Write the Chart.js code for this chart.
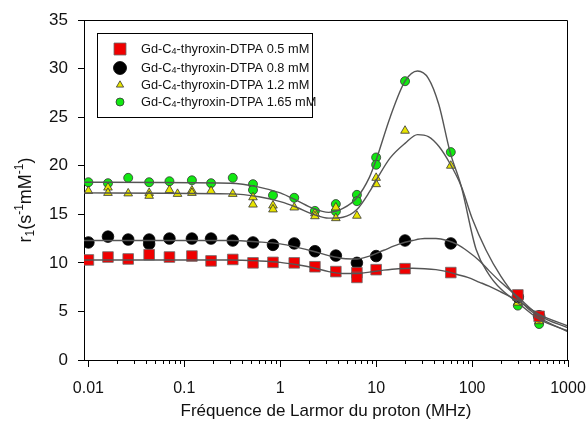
<!DOCTYPE html>
<html>
<head>
<meta charset="utf-8">
<script src="https://cdn.jsdelivr.net/npm/chart.js@4.4.1/dist/chart.umd.min.js"></script>
<style>
  html, body { margin: 0; padding: 0; background: #fff; }
  #wrap { width: 588px; height: 427px; }
</style>
</head>
<body>
<div id="wrap"><canvas id="c"></canvas></div>
<script>
// measured points (frequency in MHz, r1 in s-1 mM-1)
const freq05 = [0.01, 0.016, 0.026, 0.043, 0.07, 0.12, 0.19, 0.32, 0.52, 0.84, 1.4, 2.3, 3.8, 6.3, 6.3, 10, 20, 60, 300, 500];
const r1_05  = [10.3, 10.6, 10.4, 10.85, 10.6, 10.7, 10.2, 10.35, 10.0, 10.05, 10.0, 9.6, 9.1, 9.0, 8.5, 9.3, 9.4, 9.0, 6.7, 4.5];

const freq08 = [0.01, 0.016, 0.026, 0.043, 0.043, 0.07, 0.12, 0.19, 0.32, 0.52, 0.84, 1.4, 2.3, 3.8, 6.3, 10, 20, 60, 300, 500];
const r1_08  = [12.1, 12.7, 12.4, 12.4, 11.95, 12.5, 12.5, 12.5, 12.3, 12.1, 11.85, 12.0, 11.2, 10.75, 10.0, 10.7, 12.3, 12.0, 6.5, 4.5];

const freq12 = [0.01, 0.016, 0.016, 0.026, 0.043, 0.043, 0.07, 0.085, 0.12, 0.12, 0.19, 0.32, 0.52, 0.52, 0.84, 0.84, 1.4, 2.3, 2.3, 3.8, 3.8, 6.3, 10, 10, 20, 60, 300, 500];
const r1_12  = [17.4, 17.75, 17.2, 17.15, 17.2, 16.9, 17.5, 17.1, 17.45, 17.2, 17.4, 17.1, 16.75, 16.0, 15.9, 15.5, 15.7, 15.1, 14.8, 15.7, 14.6, 14.85, 18.75, 18.1, 23.6, 20.0, 5.9, 4.0];

const freq165 = [0.01, 0.016, 0.026, 0.043, 0.07, 0.12, 0.19, 0.32, 0.52, 0.52, 0.84, 1.4, 2.3, 3.8, 3.8, 6.3, 6.3, 10, 10, 20, 60, 300, 500];
const r1_165  = [18.3, 18.2, 18.75, 18.3, 18.4, 18.5, 18.2, 18.75, 18.1, 17.5, 16.95, 16.7, 15.35, 16.05, 15.3, 17.0, 16.35, 20.85, 20.1, 28.7, 21.4, 5.6, 3.7];

// fitted curves
const fitFreq05 = [0.009, 0.1, 0.3, 0.6, 1, 1.5, 2.2, 3.2, 4.5, 6.3, 8.5, 12, 17, 24, 32, 42, 55, 70, 90, 120, 150, 200, 300, 500, 1000];
const fit05     = [10.3, 10.3, 10.3, 10.2, 10.05, 9.8, 9.5, 9.1, 8.9, 8.9, 9.05, 9.25, 9.4, 9.45, 9.4, 9.3, 9.1, 8.8, 8.5, 8.0, 7.6, 7.0, 6.1, 4.7, 3.5];

const fitFreq08 = [0.009, 0.1, 0.3, 0.6, 1, 1.5, 2.2, 3.2, 4.5, 6.3, 8.5, 12, 17, 24, 32, 42, 55, 70, 90, 120, 150, 200, 300, 500, 1000];
const fit08     = [12.3, 12.3, 12.3, 12.15, 11.95, 11.6, 11.2, 10.75, 10.45, 10.4, 10.7, 11.3, 11.9, 12.3, 12.5, 12.5, 12.3, 11.9, 11.2, 10.2, 9.2, 8.0, 6.5, 4.6, 3.3];

const fitFreq12 = [0.009, 0.3, 0.6, 1, 1.5, 2.2, 3.2, 4.5, 6.3, 8.5, 10, 14, 20, 27, 35, 45, 59, 77, 100, 140, 200, 300, 500, 1000];
const fit12     = [17.2, 17.1, 16.8, 16.3, 15.7, 15.0, 14.6, 14.7, 15.5, 17.3, 18.5, 20.8, 22.3, 23.2, 23.0, 22.0, 20.2, 17.9, 14.6, 11.3, 8.6, 6.3, 4.4, 2.9];

const fitFreq165 = [0.009, 0.3, 0.6, 1, 1.5, 2.2, 3.2, 4.5, 6.3, 8.5, 10, 14, 20, 27, 35, 45, 59, 77, 110, 150, 200, 300, 500, 1000];
const fit165     = [18.3, 18.2, 17.8, 17.2, 16.4, 15.6, 15.2, 15.6, 16.7, 18.8, 20.6, 25.0, 28.7, 29.75, 29.0, 26.3, 21.4, 17.9, 11.4, 8.8, 7.3, 5.9, 4.2, 3.0];

const seriesNames = ['0.5 mM', '0.8 mM', '1.2 mM', '1.65 mM'];
const xMajorTicks = [0.01, 0.1, 1, 10, 100, 1000];
const yTicks = [0, 5, 10, 15, 20, 25, 30, 35];

const FONT = "'Liberation Sans', Arial, sans-serif";

function pts(xs, ys) {
  return xs.map((x, i) => ({ x: x, y: ys[i] }));
}

function fitLine(xs, ys) {
  return {
    type: 'line',
    data: pts(xs, ys),
    borderColor: '#555',
    borderWidth: 1.4,
    pointRadius: 0,
    fill: false,
    tension: 0.4,
    cubicInterpolationMode: 'monotone',
    order: 0
  };
}

const markers = [
  { style: 'rect', fill: '#f00000', edge: '#6b6b6b', r: 7.5 },
  { style: 'circle', fill: '#000000', edge: '#000000', r: 5.8 },
  { style: 'triangle', fill: '#e8e400', edge: '#333', r: 5.0 },
  { style: 'circle', fill: '#12e812', edge: '#333', r: 4.5 }
];

function scatterSet(xs, ys, m) {
  return {
    type: 'scatter',
    data: pts(xs, ys),
    pointStyle: m.style,
    pointRadius: m.r,
    pointHoverRadius: m.r,
    backgroundColor: m.fill,
    borderColor: m.edge,
    borderWidth: 0.8,
    showLine: false,
    order: 1
  };
}

// frame, minor ticks, y title and legend
const extras = {
  id: 'extras',
  afterDraw(chart) {
    const c = chart.ctx;
    const a = chart.chartArea;
    const xs = chart.scales.x;
    c.save();
    c.strokeStyle = '#000';
    c.lineWidth = 1;
    c.beginPath();
    c.moveTo(a.left, a.top + 0.5);
    c.lineTo(a.right - 0.5, a.top + 0.5);
    c.lineTo(a.right - 0.5, a.bottom);
    c.stroke();

    // minor ticks on log axis
    c.beginPath();
    xs.ticks.forEach(t => {
      if (t.major) return;
      const px = Math.round(xs.getPixelForValue(t.value)) + 0.5;
      c.moveTo(px, a.bottom);
      c.lineTo(px, a.bottom + 4);
    });
    c.stroke();

    // y title with sub/superscripts
    c.translate(26, 200);
    c.rotate(-Math.PI / 2);
    c.fillStyle = '#111';
    c.textBaseline = 'middle';
    const parts = [['r', 0, 18], ['1', 5, 12], ['(s', 0, 18], ['-1', -6, 12], ['mM', 0, 18], ['-1', -6, 12], [')', 0, 18]];
    let w = 0;
    parts.forEach(p => { c.font = p[2] + 'px ' + FONT; w += c.measureText(p[0]).width; });
    let x = -w / 2;
    parts.forEach(p => {
      c.font = p[2] + 'px ' + FONT;
      c.fillText(p[0], x, p[1]);
      x += c.measureText(p[0]).width;
    });
    c.restore();

    // legend
    c.save();
    c.strokeStyle = '#000';
    c.lineWidth = 1;
    c.strokeRect(97.5, 33.5, 215, 84);
    const rows = [49, 68, 85, 102];
    const legR = [6, 6.5, 4.2, 4];
    rows.forEach((ry, i) => {
      const m = markers[i];
      const mx = 120;
      c.fillStyle = m.fill;
      c.strokeStyle = m.edge;
      c.lineWidth = 0.8;
      c.beginPath();
      const r = legR[i];
      if (m.style === 'rect') {
        c.rect(mx - r, ry - r, 2 * r, 2 * r);
      } else if (m.style === 'triangle') {
        c.moveTo(mx, ry - r);
        c.lineTo(mx + r * 0.866, ry + r * 0.5);
        c.lineTo(mx - r * 0.866, ry + r * 0.5);
        c.closePath();
      } else {
        c.arc(mx, ry, r, 0, Math.PI * 2);
      }
      c.fill();
      c.stroke();

      c.fillStyle = '#111';
      c.textBaseline = 'middle';
      let tx = 141;
      const segs = [['Gd-C', 0, 12.8], ['4', 3, 9], ['-thyroxin-DTPA ' + seriesNames[i], 0, 12.8]];
      segs.forEach(s => {
        c.font = s[2] + 'px ' + FONT;
        c.fillText(s[0], tx, ry + s[1]);
        tx += c.measureText(s[0]).width;
      });
    });
    c.restore();
  }
};

new Chart(document.getElementById('c'), {
  type: 'scatter',
  data: {
    datasets: [
      fitLine(fitFreq05, fit05),
      fitLine(fitFreq08, fit08),
      fitLine(fitFreq12, fit12),
      fitLine(fitFreq165, fit165),
      scatterSet(freq05, r1_05, markers[0]),
      scatterSet(freq08, r1_08, markers[1]),
      scatterSet(freq12, r1_12, markers[2]),
      scatterSet(freq165, r1_165, markers[3])
    ]
  },
  options: {
    responsive: true,
    maintainAspectRatio: false,
    animation: false,
    layout: { padding: { top: 20, right: 20, left: 0, bottom: 0 } },
    plugins: { legend: { display: false }, tooltip: { enabled: false } },
    scales: {
      x: {
        type: 'logarithmic',
        min: 0.009,
        max: 1000,
        afterBuildTicks(scale) {
          const list = [];
          xMajorTicks.forEach(v => {
            list.push({ value: v, major: true });
            if (v < 1000) {
              for (let k = 2; k <= 9; k++) list.push({ value: +(v * k).toPrecision(3), major: false });
            }
          });
          scale.ticks = list;
        },
        afterFit(scale) {
          scale.height = 67;
          scale.paddingLeft = 0;
          scale.paddingRight = 0;
        },
        border: { display: true, color: '#000', width: 1 },
        grid: {
          drawOnChartArea: false,
          drawTicks: true,
          tickLength: 7,
          tickColor: ctx => (ctx.tick && ctx.tick.major) ? '#000' : 'rgba(0,0,0,0)'
        },
        ticks: {
          autoSkip: false,
          maxRotation: 0,
          padding: 12,
          color: '#111',
          font: { family: FONT, size: 16 },
          callback: function (v, i, ticks) {
            return ticks[i].major ? String(v) : '';
          }
        },
        title: {
          display: true,
          text: 'Fréquence de Larmor du proton (MHz)',
          color: '#111',
          font: { family: FONT, size: 17 },
          padding: { top: 0, bottom: 5 }
        }
      },
      y: {
        min: 0,
        max: 35,
        afterBuildTicks(scale) {
          scale.ticks = yTicks.map(v => ({ value: v }));
        },
        afterFit(scale) {
          scale.width = 84;
          scale.paddingTop = 0;
          scale.paddingBottom = 0;
        },
        border: { display: true, color: '#000', width: 1 },
        grid: { drawOnChartArea: false, drawTicks: true, tickLength: 6, tickColor: '#000' },
        ticks: {
          padding: 10,
          color: '#111',
          font: { family: FONT, size: 17 }
        }
      }
    }
  },
  plugins: [extras]
});
</script>
</body>
</html>
